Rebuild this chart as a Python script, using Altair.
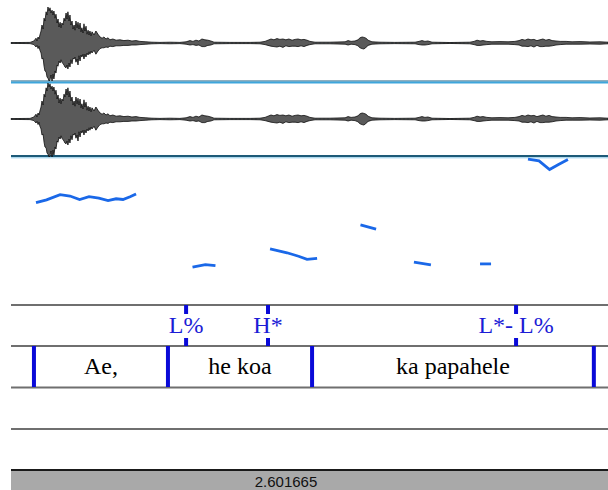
import altair as alt
import pandas as pd

DUR = 2.601665

# waveform envelope (time s, upper amp, lower amp; 1 = full scale)
wave_t = [0.000, 0.083, 0.100, 0.109, 0.113, 0.118, 0.122, 0.126, 0.131, 0.135, 0.140, 0.144, 0.148, 0.153, 0.157,
          0.161, 0.166, 0.170, 0.174, 0.179, 0.183, 0.187, 0.192, 0.196, 0.201, 0.205, 0.209, 0.214, 0.218, 0.222,
          0.227, 0.231, 0.235, 0.240, 0.244, 0.248, 0.253, 0.257, 0.261, 0.266, 0.270, 0.275, 0.279, 0.283, 0.288,
          0.292, 0.296, 0.301, 0.305, 0.309, 0.314, 0.318, 0.322, 0.327, 0.331, 0.336, 0.340, 0.344, 0.349, 0.353,
          0.362, 0.370, 0.379, 0.388, 0.397, 0.405, 0.414, 0.423, 0.431, 0.444, 0.458, 0.475, 0.492, 0.510, 0.527,
          0.545, 0.562, 0.588, 0.614, 0.649, 0.693, 0.736, 0.763, 0.780, 0.793, 0.806, 0.819, 0.832, 0.845, 0.858,
          0.871, 0.885, 0.954, 1.042, 1.085, 1.107, 1.120, 1.133, 1.146, 1.159, 1.172, 1.185, 1.198, 1.211, 1.225,
          1.238, 1.251, 1.264, 1.277, 1.290, 1.303, 1.325, 1.390, 1.456, 1.469, 1.482, 1.499, 1.512, 1.521, 1.530,
          1.538, 1.547, 1.556, 1.573, 1.608, 1.673, 1.761, 1.778, 1.791, 1.804, 1.817, 1.835, 1.913, 2.000, 2.018,
          2.031, 2.044, 2.057, 2.074, 2.096, 2.131, 2.166, 2.196, 2.214, 2.227, 2.240, 2.253, 2.266, 2.279, 2.292,
          2.305, 2.318, 2.331, 2.345, 2.358, 2.375, 2.393, 2.419, 2.445, 2.480, 2.523, 2.567, 2.602]
wave_up = [0.01, 0.015, 0.05, 0.12, 0.05, 0.15, 0.10, 0.20, 0.30, 0.45, 0.35, 0.62, 0.55, 0.78, 0.70,
           0.90, 0.80, 0.88, 0.75, 0.82, 0.70, 0.80, 0.62, 0.72, 0.50, 0.60, 0.40, 0.52, 0.38, 0.50,
           0.45, 0.62, 0.55, 0.75, 0.60, 0.78, 0.55, 0.70, 0.45, 0.55, 0.35, 0.45, 0.32, 0.55, 0.38,
           0.52, 0.35, 0.50, 0.28, 0.38, 0.25, 0.48, 0.30, 0.42, 0.22, 0.32, 0.20, 0.30, 0.18, 0.28,
           0.20, 0.30, 0.22, 0.15, 0.12, 0.15, 0.10, 0.13, 0.08, 0.10, 0.07, 0.08, 0.06, 0.07, 0.05,
           0.06, 0.04, 0.03, 0.02, 0.015, 0.02, 0.015, 0.03, 0.06, 0.04, 0.07, 0.05, 0.10, 0.08, 0.07,
           0.05, 0.02, 0.015, 0.015, 0.02, 0.04, 0.07, 0.10, 0.08, 0.11, 0.09, 0.10, 0.08, 0.10, 0.07,
           0.09, 0.10, 0.08, 0.09, 0.07, 0.04, 0.02, 0.02, 0.03, 0.06, 0.04, 0.05, 0.08, 0.13, 0.15,
           0.14, 0.12, 0.07, 0.03, 0.02, 0.015, 0.02, 0.04, 0.06, 0.04, 0.05, 0.02, 0.012, 0.02, 0.04,
           0.07, 0.05, 0.06, 0.04, 0.03, 0.035, 0.03, 0.04, 0.06, 0.09, 0.07, 0.10, 0.08, 0.09, 0.06,
           0.08, 0.10, 0.07, 0.09, 0.06, 0.05, 0.04, 0.04, 0.03, 0.035, 0.025, 0.03, 0.02]
wave_lo = [0.01, 0.015, 0.04, 0.10, 0.06, 0.14, 0.08, 0.18, 0.25, 0.40, 0.38, 0.58, 0.70, 0.72, 0.85,
           0.88, 0.95, 0.92, 0.80, 0.95, 0.78, 0.90, 0.70, 0.75, 0.55, 0.58, 0.45, 0.50, 0.42, 0.48,
           0.52, 0.55, 0.60, 0.62, 0.55, 0.65, 0.50, 0.60, 0.42, 0.52, 0.38, 0.40, 0.35, 0.48, 0.40,
           0.55, 0.32, 0.45, 0.30, 0.35, 0.28, 0.40, 0.28, 0.35, 0.25, 0.30, 0.22, 0.28, 0.20, 0.25,
           0.18, 0.28, 0.20, 0.14, 0.12, 0.12, 0.10, 0.11, 0.08, 0.09, 0.07, 0.07, 0.06, 0.06, 0.05,
           0.05, 0.04, 0.03, 0.02, 0.015, 0.02, 0.015, 0.03, 0.05, 0.04, 0.06, 0.05, 0.09, 0.09, 0.06,
           0.05, 0.02, 0.015, 0.015, 0.02, 0.04, 0.06, 0.08, 0.09, 0.10, 0.08, 0.11, 0.07, 0.09, 0.08,
           0.08, 0.09, 0.07, 0.09, 0.06, 0.04, 0.02, 0.02, 0.03, 0.05, 0.03, 0.04, 0.07, 0.12, 0.14,
           0.15, 0.11, 0.06, 0.03, 0.02, 0.015, 0.02, 0.04, 0.05, 0.05, 0.04, 0.02, 0.012, 0.02, 0.04,
           0.06, 0.06, 0.05, 0.04, 0.03, 0.03, 0.03, 0.04, 0.05, 0.08, 0.08, 0.09, 0.07, 0.10, 0.06,
           0.09, 0.09, 0.08, 0.08, 0.07, 0.05, 0.04, 0.03, 0.03, 0.03, 0.025, 0.03, 0.02]

# pitch contour (time s, Hz), segments
pitch_t = [0.109, 0.155, 0.214, 0.257, 0.299, 0.340, 0.383, 0.423, 0.458, 0.488, 0.519, 0.545,
           0.791, 0.847, 0.891,
           1.129, 1.203, 1.253, 1.290, 1.334,
           1.523, 1.591,
           1.756, 1.830,
           2.044, 2.092,
           2.253, 2.301, 2.347, 2.384, 2.427]
pitch_hz = [369, 377, 392, 388, 378, 386, 382, 375, 380, 378, 386, 394,
            184, 191, 188,
            236, 225, 215, 206, 209,
            305, 293,
            198, 190,
            193, 193,
            494, 489, 464, 478, 493]
pitch_seg = [1] * 12 + [2] * 3 + [3] * 5 + [4] * 2 + [5] * 2 + [6] * 2 + [7] * 5

# tiers
tone_t = [0.763, 1.120, 2.201]
tones = ["L%", "H*", "L*-  L%"]
word_bounds = [0.100, 0.684, 1.312, 2.540]
words = ["Ae,", "he koa", "ka papahele"]

W, H = 597, 490
xs = alt.Scale(domain=[0, DUR], nice=False, zero=False)
X = alt.X("t:Q", scale=xs, axis=None)

wave = pd.DataFrame({"t": wave_t, "up": wave_up, "lo": [-v for v in wave_lo]})
pitch = pd.DataFrame({"t": pitch_t, "hz": pitch_hz, "seg": pitch_seg})
tone_df = pd.DataFrame({"t": tone_t, "label": tones})
bnd_df = pd.DataFrame({"t": word_bounds})
word_df = pd.DataFrame({"t": [(word_bounds[i] + word_bounds[i + 1]) / 2 for i in range(len(words))],
                        "label": words})
dur_df = pd.DataFrame({"label": [f"{DUR:.6f}"]})
one = pd.DataFrame({"a": [0]})


def hline(y, color, sw):
    return alt.Chart(one).mark_rule(color=color, strokeWidth=sw).encode(
        x=alt.value(0), x2=alt.value(W), y=alt.value(y))


layers = []
# zero lines of channels
for yc in (43, 119):
    layers.append(alt.Chart(one).mark_rule(color="#7fb3cf", strokeWidth=1, strokeDash=[2, 2]).encode(
        x=alt.value(0), x2=alt.value(W), y=alt.value(yc)))
# separators
layers += [hline(81, "#1f5f7e", 1), hline(82.5, "#3ea6dc", 2),
           hline(156, "#1d5a78", 2), hline(157.8, "#8cc8e6", 1),
           hline(305, "#6f6f6f", 2), hline(346, "#6f6f6f", 2), hline(387.5, "#6f6f6f", 2),
           hline(429, "#6f6f6f", 2), hline(470, "#1a1a1a", 2)]
# bottom bar
layers.append(alt.Chart(one).mark_rect(color="#a9a9a9").encode(
    x=alt.value(0), x2=alt.value(W), y=alt.value(471), y2=alt.value(490)))
layers.append(alt.Chart(dur_df).mark_text(font="Liberation Sans", fontSize=15, color="#111111",
                                          baseline="middle").encode(
    x=alt.value(275), y=alt.value(482), text="label:N"))

# waveforms
for rng in ([83, 3], [159, 79]):
    layers.append(alt.Chart(wave).mark_area(color="#5a5a5a", stroke="#0d0d0d", strokeWidth=0.8,
                                            interpolate="linear").encode(
        x=X,
        y=alt.Y("up:Q", scale=alt.Scale(domain=[-1, 1], range=rng, nice=False, zero=False), axis=None),
        y2="lo:Q"))

# pitch
layers.append(alt.Chart(pitch).mark_line(color="#1a68e8", strokeWidth=2.8).encode(
    x=X,
    y=alt.Y("hz:Q", scale=alt.Scale(domain=[75, 500], range=[305, 157], nice=False, zero=False), axis=None),
    detail="seg:N"))

# tone tier
TB = "#0a0ad8"
layers.append(alt.Chart(tone_df).mark_rule(color=TB, strokeWidth=4).encode(
    x=X, y=alt.value(305), y2=alt.value(314)))
layers.append(alt.Chart(tone_df).mark_rule(color=TB, strokeWidth=4).encode(
    x=X, y=alt.value(338), y2=alt.value(346)))
layers.append(alt.Chart(tone_df).mark_text(font="Liberation Serif", fontSize=24, color="#1c1cd6",
                                           baseline="middle").encode(
    x=X, y=alt.value(326), text="label:N"))

# word tier
layers.append(alt.Chart(bnd_df).mark_rule(color=TB, strokeWidth=4).encode(
    x=X, y=alt.value(346), y2=alt.value(387)))
layers.append(alt.Chart(word_df).mark_text(font="Liberation Serif", fontSize=24, color="#000000",
                                           baseline="middle").encode(
    x=X, y=alt.value(367), text="label:N"))

chart = alt.layer(*layers).resolve_scale(y="independent").properties(
    width=W, height=H,
    padding={"left": 11, "top": 0, "right": 0, "bottom": 0},
    autosize=alt.AutoSizeParams(type="none"),
).configure_view(stroke=None)

chart.save("out.html", embed_options={"renderer": "svg", "actions": False})
